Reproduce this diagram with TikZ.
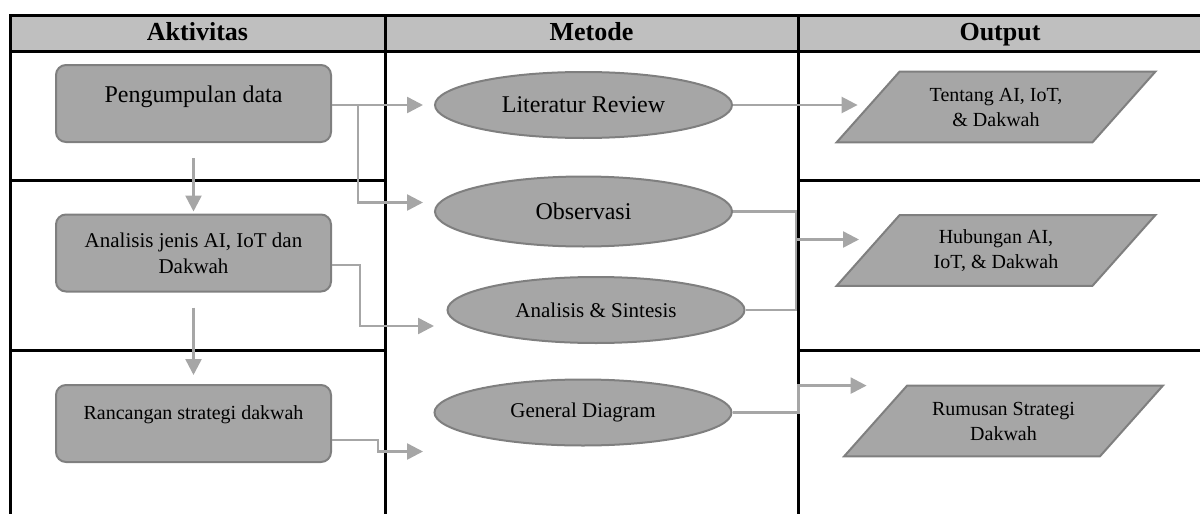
\documentclass[tikz,border=0pt]{standalone}
\usepackage{fontspec}
\setmainfont{Liberation Serif}
\usetikzlibrary{shapes.geometric,arrows.meta,calc,backgrounds}
\definecolor{hdgray}{HTML}{BFBFBF}
\definecolor{boxgray}{HTML}{A6A6A6}
\definecolor{edgegray}{HTML}{7F7F7F}
\definecolor{linegray}{HTML}{A6A6A6}
\begin{document}
\begin{tikzpicture}[x=0.5pt,y=-0.5pt,
        grid/.style={line width=1.5pt,line cap=rect},
        akt/.style={draw=edgegray,fill=boxgray,line width=1pt,rounded corners=5pt,minimum width=137.5pt,minimum height=38.5pt,inner sep=2pt,align=center},
        met/.style={ellipse,draw=edgegray,fill=boxgray,line width=1pt,minimum width=148.5pt,minimum height=33pt,inner sep=0pt,font=\fontsize{12}{14}\selectfont},
        outbox/.style={minimum width=127.5pt,minimum height=35pt,inner sep=0pt,align=center,font=\fontsize{10}{12.5}\selectfont},
        slant/.style={draw=edgegray,fill=boxgray,line width=1pt},
        head/.style={anchor=base,font=\bfseries\fontsize{13}{15}\selectfont},
        flow/.style={draw=linegray,line width=1.25pt,-{Triangle[length=8pt,width=8pt]}},
        link/.style={draw=linegray,line width=1.25pt}]
        \useasboundingbox (0,0) rectangle (1200,514);
        % tabel
        \fill[hdgray] (10,15) rectangle (1200,51);
        \draw[grid] (10,15) -- (1200,15) (10,51) -- (1200,51);
        \draw[grid] (10,15) -- (10,520) (385,15) -- (385,520) (798,15) -- (798,520);
        \draw[grid] (10,180) -- (385,180) (10,350) -- (385,350);
        \draw[grid] (798,180) -- (1200,180) (798,350) -- (1200,350);
        \node[head] (hakt) at (197.5,40) {Aktivitas};
        \node[head] (hmet) at (591.5,40) {Metode};
        \node[head] (hout) at (1000,40) {Output};
        % aktivitas
        \node[akt,font=\fontsize{12}{14}\selectfont,text height=8pt,text depth=9.1pt] (pd) at (193.5,103.5) {Pengumpulan data};
        \node[akt,font=\fontsize{10.5}{13}\selectfont] (aj) at (193.5,253) {Analisis jenis AI, IoT dan\\Dakwah};
        \node[akt,font=\fontsize{10}{12}\selectfont,text height=7pt,text depth=11.4pt] (rs) at (193.5,423.5) {Rancangan strategi dakwah};
        % metode
        \node[met] (lr) at (583.5,105) {Literatur Review};
        \node[met,minimum height=35pt] (ob) at (583.5,211.5) {Observasi};
        \node[met,font=\fontsize{10.5}{13}\selectfont] (as) at (596,310) {Analisis \& Sintesis};
        \node[met,font=\fontsize{10.5}{13}\selectfont] (gd) at (583,412.5) {General Diagram};
        % output
        \node[outbox] (o1) at (996,107) {Tentang AI, IoT,\\\& Dakwah};
        \node[outbox] (o2) at (996,250.5) {Hubungan AI,\\IoT, \& Dakwah};
        \node[outbox] (o3) at (1003.5,421) {Rumusan Strategi\\Dakwah};
        \begin{scope}[on background layer]
        \foreach \o in {o1,o2,o3}
            \draw[slant] ([xshift=-15.75pt]\o.south west) -- ([xshift=-15.75pt]\o.south east)
                -- ([xshift=15.75pt]\o.north east) -- ([xshift=15.75pt]\o.north west) -- cycle;
        \end{scope}
        % panah
        \draw[flow,shorten >=5.5pt] (pd.east |- lr.west) -- (lr.west);
        \draw[flow,shorten >=5.5pt] (pd.east |- lr.west) -- ++(26,0) |- ($(ob.west)+(0,-9)$);
        \draw[flow,shorten <=7.5pt,shorten >=1pt] (pd.south) -- (aj.north);
        \draw[flow,shorten <=7.5pt,shorten >=4.5pt] (aj.south) -- (rs.north);
        \draw[flow,shorten >=6.25pt] ($(aj.east)+(0,12)$) -- ++(28,0) |- ($(as.west)+(0,16)$);
        \draw[flow,shorten >=5.25pt] ($(rs.east)+(0,16.5)$) -- ++(46,0) |- ($(gd.west)+(0,39)$);
        \draw[flow,shorten >=5.25pt] (lr.east) -- (lr.east -| o1.west);
        \draw[link] (ob.east) -- ++(63,0) coordinate (join) |- (as.east);
        \draw[flow] ($(join)+(0,28)$) -- ++(63,0);
        \draw[flow,shorten >=4.5pt] (gd.east) -- ++(66,0) |- (o3.north west);
\end{tikzpicture}
\end{document}
